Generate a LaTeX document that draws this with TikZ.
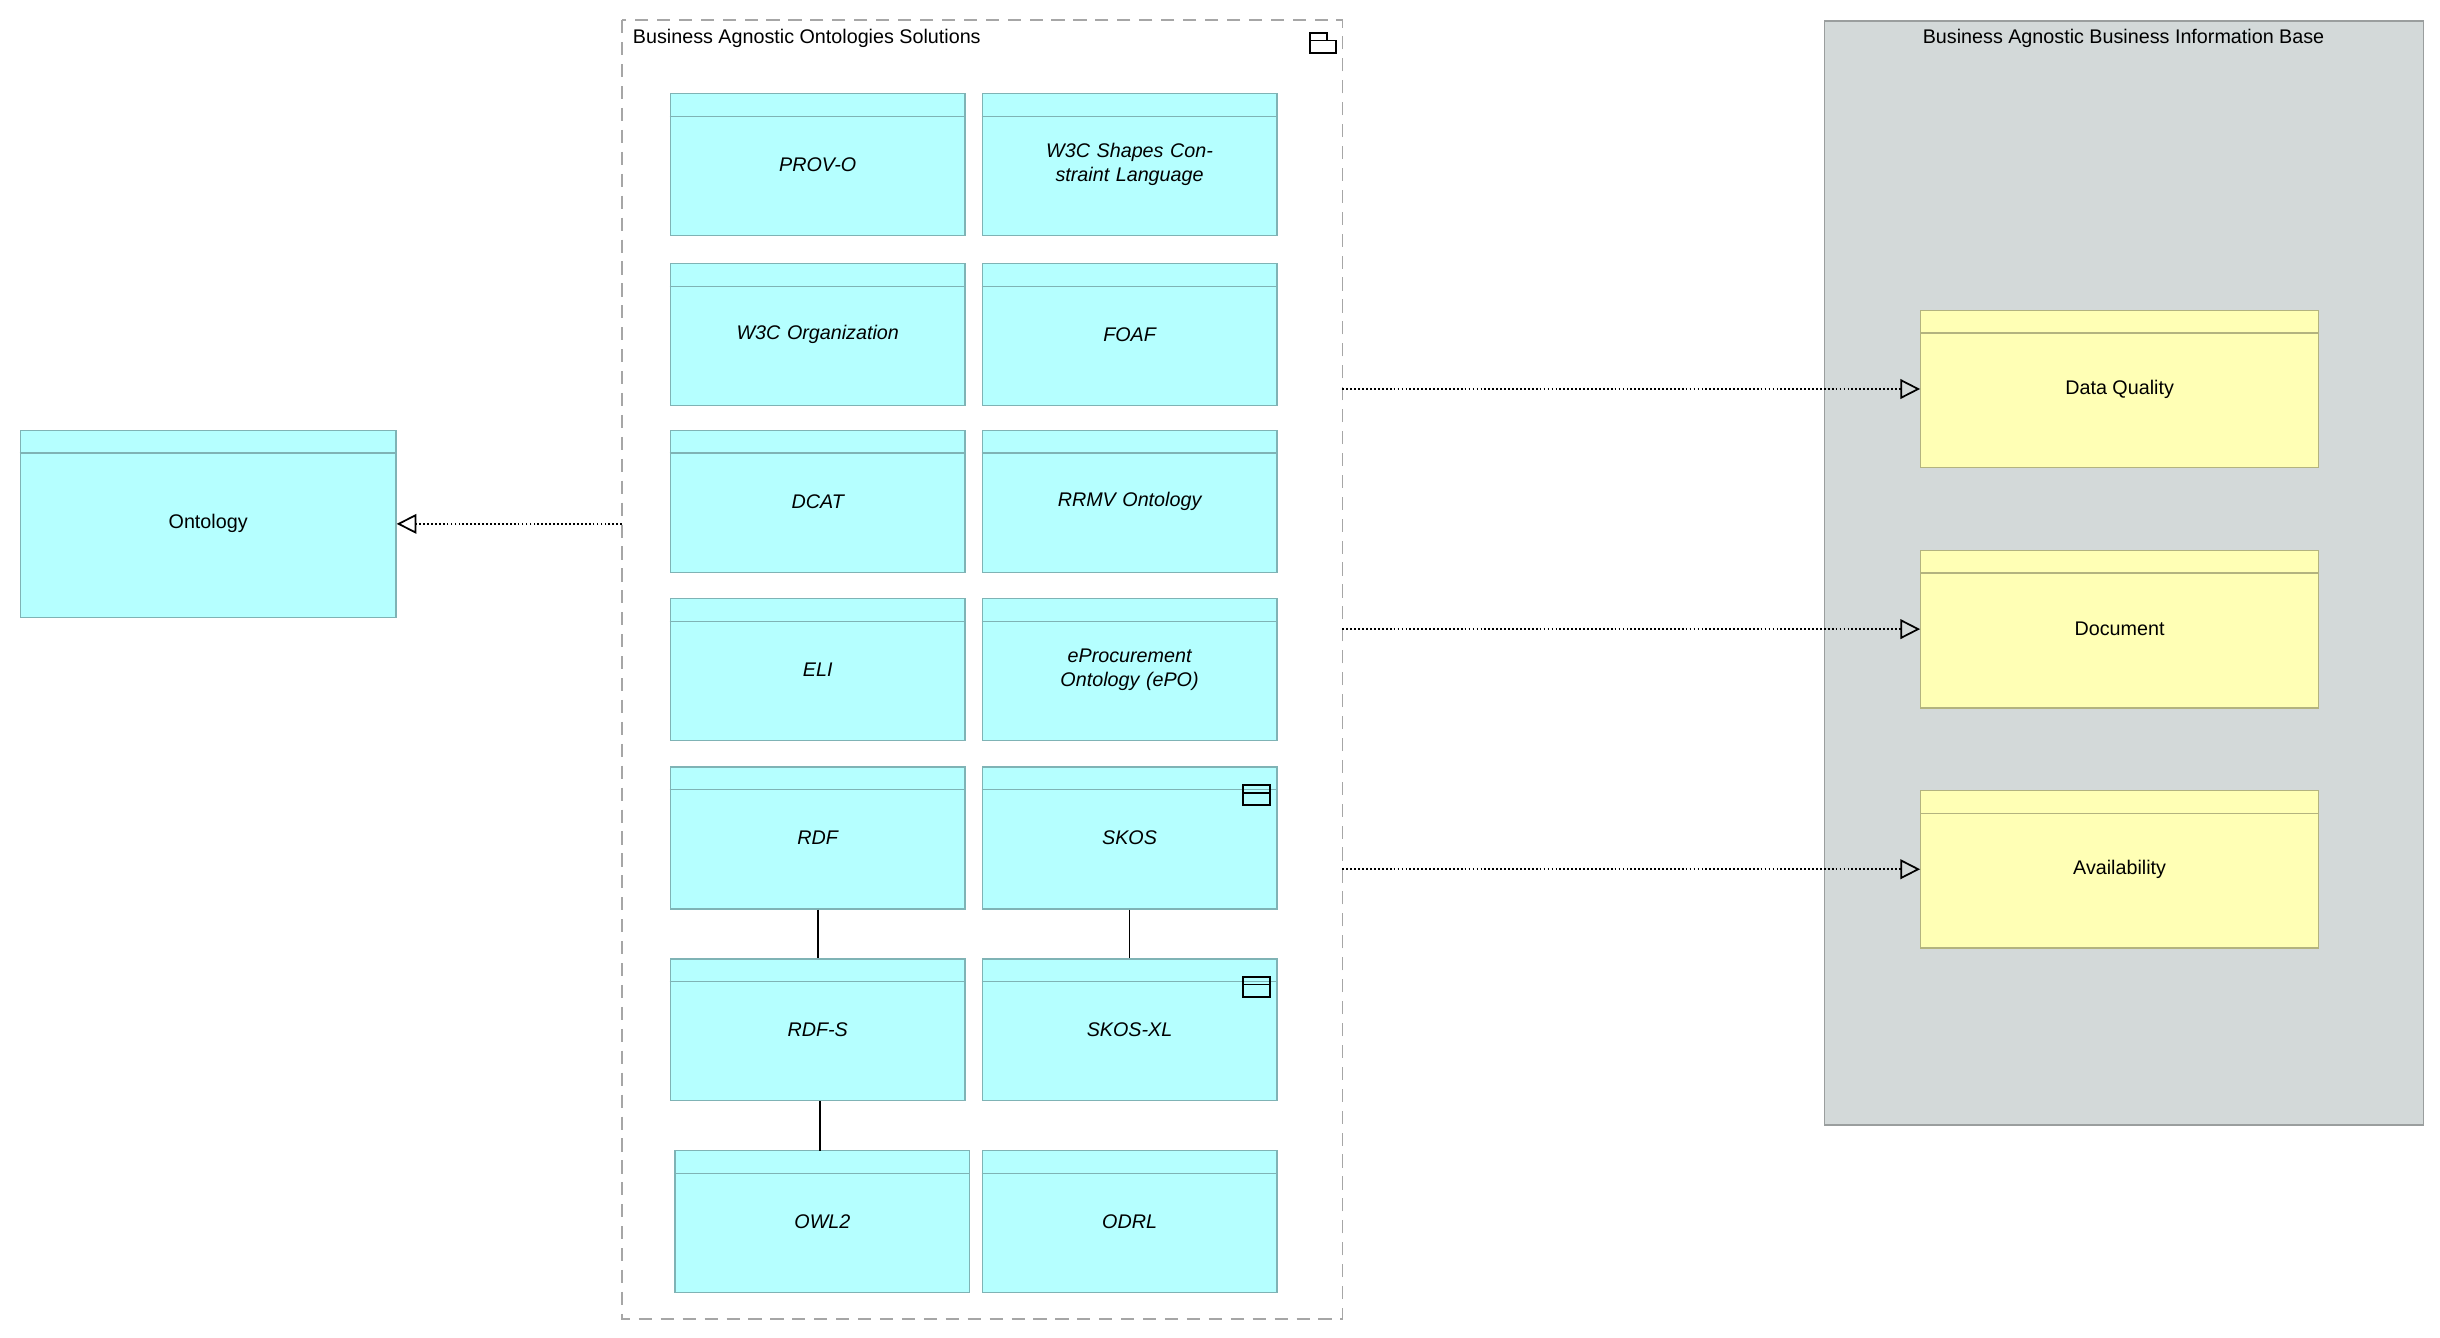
\documentclass[tikz,border=0pt]{standalone}
\usepackage{fontspec}
\setmainfont{Liberation Sans}
\usetikzlibrary{arrows.meta}
\usetikzlibrary{positioning}
\definecolor{appfill}{HTML}{B5FFFF}
\definecolor{appdraw}{HTML}{7FB3B5}
\definecolor{bibfill}{HTML}{D3D9D9}
\definecolor{bibdraw}{HTML}{9A9E9E}
\definecolor{datafill}{HTML}{FFFFB5}
\definecolor{datadraw}{HTML}{B3B37F}
\tikzset{
  app/.style={draw=appdraw, fill=appfill, line width=0.6pt, minimum width=4.725cm, minimum height=2.275cm, inner sep=0pt, text width=4.2cm, align=center, font=\itshape\small},
  dat/.style={draw=datadraw, fill=datafill, line width=0.6pt, minimum width=6.375cm, minimum height=2.525cm, inner sep=0pt, font=\small},
  real/.style={densely dotted, thick, -{Triangle[open, length=9pt, width=9pt]}},
  assoc/.style={thick}
}
% element box with header strip
\newcommand{\appbox}[4][app]{%
  \node[#1] (#2) at (#3) {#4};
  \draw[draw=appdraw, line width=0.6pt] ([yshift=-0.375cm]#2.north west) -- ([yshift=-0.375cm]#2.north east);}
\newcommand{\winicon}[1]{%
  \draw[thick] ([shift={(-0.55cm,-0.3cm)}]#1.north east) rectangle ([shift={(-0.12cm,-0.62cm)}]#1.north east);
  \draw[thick] ([shift={(-0.55cm,-0.42cm)}]#1.north east) -- ([shift={(-0.12cm,-0.42cm)}]#1.north east);}
\begin{document}
\begin{tikzpicture}[x=0.025cm, y=-0.025cm]
  \useasboundingbox[fill=white] (0,0) rectangle (1565,858);
  % containers
  \draw[dashed, dash pattern=on 6pt off 4pt, draw=black!35, line width=0.8pt] (399,13) rectangle (861,846);
  \node[anchor=north west, font=\small] (soltitle) at (401,14) {Business Agnostic Ontologies Solutions};
  \draw[thick] (840,26) rectangle (857,34);
  \draw[thick] (840,26) -- (840,21) -- (851,21) -- (851,26);
  \node[draw=bibdraw, fill=bibfill, line width=0.6pt, minimum width=9.6cm, minimum height=17.7cm, anchor=north west] (bib) at (1170,13) {};
  \node[anchor=north, font=\small] (bibtitle) at (1362,14) {Business Agnostic Business Information Base};
  % left element
  \node[app, minimum width=6.025cm, minimum height=3cm, font=\small] (ontology) at (133.5,336) {Ontology};
  \draw[draw=appdraw, line width=0.6pt] ([yshift=-0.375cm]ontology.north west) -- ([yshift=-0.375cm]ontology.north east);
  % ontologies
  \appbox{provo}{524.5,105.5}{PROV-O}
  \appbox{shacl}{724.5,105.5}{W3C Shapes Constraint Language}
  \appbox{org}{524.5,214.5}{W3C Organization}
  \appbox{foaf}{724.5,214.5}{FOAF}
  \appbox{dcat}{524.5,321.5}{DCAT}
  \appbox{rrmv}{724.5,321.5}{RRMV Ontology}
  \appbox{eli}{524.5,429.5}{ELI}
  \appbox{epo}{724.5,429.5}{eProcurement Ontology (ePO)}
  \appbox{rdf}{524.5,537.5}{RDF}
  \appbox{skos}{724.5,537.5}{SKOS}
  \appbox{rdfs}{524.5,660.5}{RDF-S}
  \appbox{skosxl}{724.5,660.5}{SKOS-XL}
  \appbox{owl}{527.5,783.5}{OWL2}
  \appbox{odrl}{724.5,783.5}{ODRL}
  \winicon{skos}
  \winicon{skosxl}
  % data objects
  \node[dat] (quality) at (1359.5,249.5) {Data Quality};
  \node[dat] (document) at (1359.5,403.5) {Document};
  \node[dat] (avail) at (1359.5,557.5) {Availability};
  \foreach \d in {quality, document, avail}
    \draw[draw=datadraw, line width=0.6pt] ([yshift=-0.375cm]\d.north west) -- ([yshift=-0.375cm]\d.north east);
  % connectors
  \coordinate (solleft) at (399,336);
  \coordinate (solq) at (861,249.5);
  \coordinate (sold) at (861,403.5);
  \coordinate (sola) at (861,557.5);
  \draw[real] (solleft) -- (ontology.east);
  \draw[real] (solq) -- (quality.west);
  \draw[real] (sold) -- (document.west);
  \draw[real] (sola) -- (avail.west);
  \draw[assoc] (rdf.south) -- (rdfs.north);
  \draw[assoc] (skos.south) -- (skosxl.north);
  \draw[assoc] (rdfs.south -| 526,0) -- (526,738);
\end{tikzpicture}
\end{document}
